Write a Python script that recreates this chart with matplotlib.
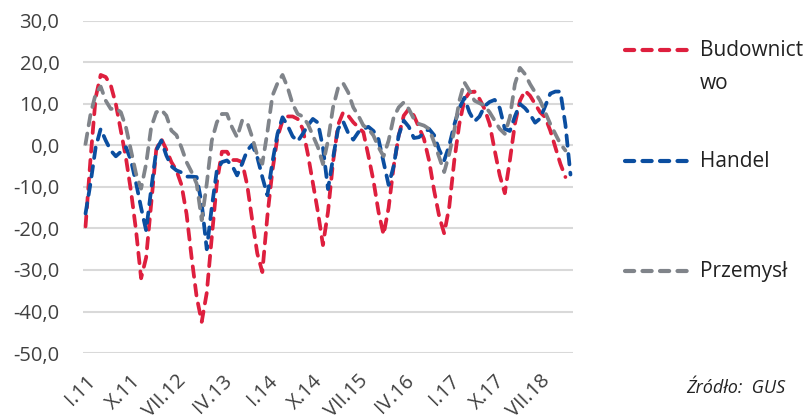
import numpy as np
import matplotlib.pyplot as plt
from matplotlib.lines import Line2D

plt.rcParams['font.family'] = 'Open Sans'

# monthly values, I.11 .. I.19
budownictwo = [-19.5, -3, 11.5, 17, 16.5, 14.5, 10, 3.5, -3, -11, -20.5, -32,
               -27, -14, -1, 1.6, -1, -4, -6, -9.5, -16.5, -27, -36.5, -42.5,
               -35.5, -22, -9, -1.5, -1.5, -3.5, -3.5, -4, -9.5, -18, -26, -30.5,
               -17, -6, 2, 6, 7, 7, 6.4, 4, -2, -9, -16, -24,
               -16, -4, 5, 8, 7.2, 5.6, 4.4, 3.2, -2.5, -8.5, -16, -21.5,
               -15, -5, 2.4, 7.2, 8.8, 7.2, 4.4, 1.6, -3.6, -10.8, -17, -21.2,
               -14.8, -3.6, 5.2, 11, 12.8, 13, 11.2, 8.8, 5.2, -1.2, -7.2, -11.5,
               -3.6, 5.2, 10.8, 13.2, 12, 10, 8, 6.8, 3.6, -0.4, -4.4, -7.6]
handel = [-16.4, -9, -0.5, 4, 1.2, -1.2, -2.6, -1.5, -0.4, -3.6, -9, -15,
          -20.5, -10.5, -1.2, 1.2, -2.4, -5, -6, -6.5, -7.5, -7.5, -7.6, -14,
          -25, -14.8, -6, -4, -3.6, -4.8, -7.2, -4.4, -1.2, 0.2, -2.8, -7.6,
          -12, -4, 2.8, 6.8, 4.8, 2.2, 1, 2.8, 4.8, 6.4, 5.5, -0.5,
          -10.5, -3, 4, 5.8, 3, 1.4, 3.2, 4, 4.5, 3.5, 1.5, -4,
          -9.5, -5, 2.5, 6, 4.5, 1.8, 2, 3, 4, 2.5, -1, -3.6,
          0, 5, 9, 11.5, 8, 5.8, 7, 9.5, 10.5, 11, 9, 4,
          3.5, 7, 10, 9, 7.5, 5.5, 6.5, 9.5, 12.5, 13, 13, 5,
          -7]
przemysl = [0.4, 7.6, 12.4, 14.2, 10.8, 8.8, 9, 8, 4.4, -1.2, -6.8, -10.4,
            -4.4, 4.4, 8, 8.6, 7.2, 3.6, 2.5, -0.5, -4, -6.4, -9.2, -18,
            -9.2, 1.2, 5.6, 7.6, 7.6, 4.4, 2, 6, 5.6, 2, -2.4, -4.4,
            3.2, 12, 15, 17, 14, 10, 7.6, 7, 5.2, 2.4, -0.4, -4.5,
            1.2, 9.2, 13.9, 15, 12.8, 9.2, 7.2, 4.8, 4, 2.4, -0.4, -2.6,
            1.2, 6.8, 9.2, 10.4, 8.8, 6.4, 5.2, 4.8, 4, 0.8, -2.8, -6.4,
            -2, 3.6, 10.8, 15.2, 13.2, 10.8, 10.2, 9.6, 8, 6, 4, 2.8,
            6.8, 14.8, 18.7, 17.2, 14.8, 12.8, 10.8, 8, 5.2, 2.8, 0.4, -1.2]

tick_pos = [0, 9, 18, 27, 36, 45, 54, 63, 72, 81, 90]
tick_labels = ['I.11', 'X.11', 'VII.12', 'IV.13', 'I.14', 'X.14',
               'VII.15', 'IV.16', 'I.17', 'X.17', 'VII.18']

names = ['Budownict\nwo', 'Handel', 'Przemysł']
colors = ['#DE1F3E', '#0B4EA0', '#80848A']
series = [budownictwo, handel, przemysl]

W, H = 806, 417
fig = plt.figure(figsize=(W / 100, H / 100), dpi=100)
ax = fig.add_axes([83 / W, 1 - 353 / H, 490 / W, 332 / H])

dash = (0, (2.8, 2.2))
for vals, c in zip(series, colors):
    ax.plot(np.arange(len(vals)), vals, color=c, lw=2.7, linestyle=dash,
            dash_capstyle='round')

ax.set_xlim(-0.5, 96.5)
ax.set_ylim(-50, 30)
yt = np.arange(-50, 31, 10)
ax.set_yticks(yt)
ax.set_yticklabels([f'{v:.1f}'.replace('.', ',') for v in yt], fontsize=14.5,
                   color='#404040')
ax.set_xticks(tick_pos)
ax.set_xticklabels(tick_labels, rotation=45, ha='right', va='top',
                   rotation_mode='anchor', fontsize=14.5, color='#404040')
ax.tick_params(axis='y', length=0, pad=17)
ax.tick_params(axis='x', length=0, pad=13)
ax.grid(axis='y', color='#D9D9D9', lw=1.5)
ax.set_axisbelow(True)
for s in ax.spines.values():
    s.set_visible(False)

# legend drawn by hand to match the spacing
leg_y = [50, 161, 271]
for name, c, y in zip(names, colors, leg_y):
    fig.add_artist(Line2D([625 / W, 688 / W], [1 - y / H, 1 - y / H],
                          color=c, lw=3, linestyle=(0, (2.2, 2.0)),
                          dash_capstyle='round'))
    fig.text(700 / W, 1 - (y - 10) / H, name, fontsize=15, va='top',
             linespacing=1.75, color='#222222')

fig.text(785 / W, 1 - 388 / H, 'Źródło:  GUS', fontsize=13, style='italic',
         ha='right', va='center', color='#222222')

fig.savefig('out.png', dpi=100)
